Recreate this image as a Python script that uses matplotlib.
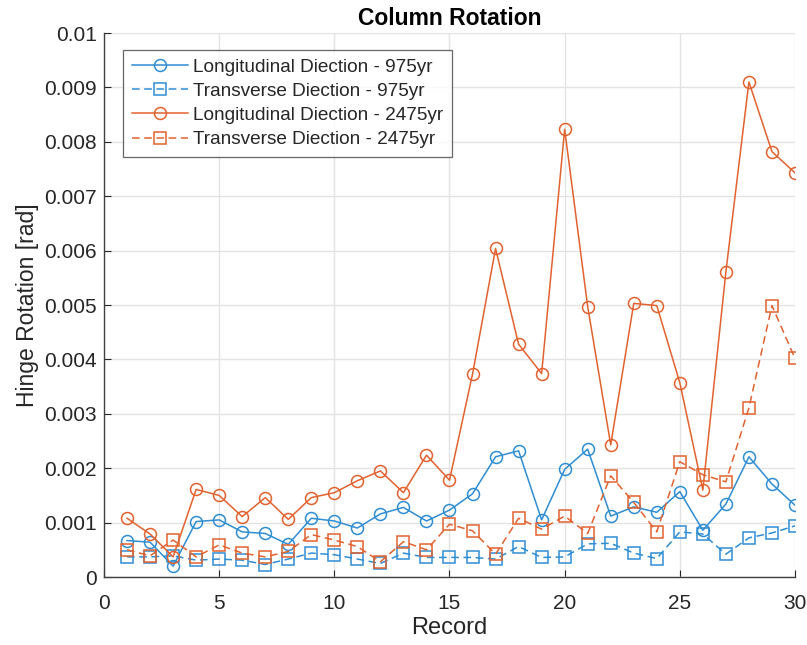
import matplotlib
matplotlib.use("Agg")
import matplotlib.pyplot as plt
import numpy as np

plt.rcParams['font.family'] = ['Liberation Sans', 'DejaVu Sans']

records = list(range(1, 31))

long_975 = [0.00067, 0.00064, 0.00020, 0.00102, 0.00105, 0.00083, 0.00080, 0.00060, 0.00108, 0.00103,
            0.00090, 0.00116, 0.00128, 0.00103, 0.00123, 0.00153, 0.00221, 0.00232, 0.00105, 0.00198,
            0.00235, 0.00112, 0.00129, 0.00119, 0.00157, 0.00086, 0.00134, 0.00221, 0.00171, 0.00132]
trans_975 = [0.00037, 0.00037, 0.00039, 0.00031, 0.00033, 0.00031, 0.00023, 0.00033, 0.00044, 0.00041,
             0.00033, 0.00025, 0.00044, 0.00036, 0.00036, 0.00036, 0.00033, 0.00056, 0.00036, 0.00037,
             0.00061, 0.00062, 0.00044, 0.00034, 0.00083, 0.00079, 0.00042, 0.00072, 0.00081, 0.00094]
long_2475 = [0.00108, 0.00079, 0.00037, 0.00161, 0.00150, 0.00111, 0.00146, 0.00106, 0.00146, 0.00155,
             0.00177, 0.00195, 0.00155, 0.00224, 0.00178, 0.00373, 0.00604, 0.00428, 0.00374, 0.00823,
             0.00497, 0.00243, 0.00503, 0.00499, 0.00357, 0.00160, 0.00561, 0.00910, 0.00782, 0.00743]
trans_2475 = [0.00050, 0.00039, 0.00068, 0.00037, 0.00059, 0.00044, 0.00037, 0.00047, 0.00078, 0.00068,
              0.00056, 0.00028, 0.00065, 0.00050, 0.00097, 0.00085, 0.00042, 0.00108, 0.00088, 0.00112,
              0.00080, 0.00186, 0.00137, 0.00083, 0.00212, 0.00188, 0.00175, 0.00311, 0.00499, 0.00402]

y_ticks = [0, 0.001, 0.002, 0.003, 0.004, 0.005, 0.006, 0.007, 0.008, 0.009, 0.01]
y_tick_labels = ['0', '0.001', '0.002', '0.003', '0.004', '0.005', '0.006', '0.007', '0.008', '0.009', '0.01']
x_ticks = [0, 5, 10, 15, 20, 25, 30]

blue = '#2F8DD2'
orange = '#E2622F'

fig = plt.figure(figsize=(8.07, 6.45), dpi=100)
ax = fig.add_axes([0.1289, 0.1054, 0.8562, 0.8434])

mk = dict(markersize=8.6, markerfacecolor='none', markeredgewidth=1.1, linewidth=1.1)
ax.plot(records, long_975, '-', marker='o', color=blue, label='Longitudinal Diection - 975yr', **mk)
ax.plot(records, trans_975, '--', marker='s', color=blue, label='Transverse Diection - 975yr', dashes=(5, 3), **mk)
ax.plot(records, long_2475, '-', marker='o', color=orange, label='Longitudinal Diection - 2475yr', **mk)
ax.plot(records, trans_2475, '--', marker='s', color=orange, label='Transverse Diection - 2475yr', dashes=(5, 3), **mk)

ax.set_xlim(0, 30)
ax.set_ylim(0, 0.01)
ax.set_xticks(x_ticks)
ax.set_yticks(y_ticks)
ax.set_yticklabels(y_tick_labels)
ax.tick_params(direction='in', labelsize=15, colors='#262626', length=5, width=0.8)
ax.tick_params(axis='y', pad=5)
ax.tick_params(axis='x', pad=12)
for s in ['top', 'right']:
    ax.spines[s].set_visible(False)
for s in ['left', 'bottom']:
    ax.spines[s].set_color('#404040')
    ax.spines[s].set_linewidth(1.0)
ax.grid(True, color='#e3e3e3', linewidth=1.0)
ax.set_axisbelow(True)

ax.set_xlabel('Record', fontsize=17, color='#262626', labelpad=3)
ax.set_ylabel('Hinge Rotation [rad]', fontsize=16.5, color='#262626', labelpad=4)
ax.set_title('Column Rotation', fontsize=16.5, fontweight='bold', color='black', pad=6)

leg = ax.legend(loc='upper left', bbox_to_anchor=(0.0275, 0.969), fontsize=13.7, frameon=True,
                fancybox=False, edgecolor='#404040', handlelength=2.95, borderpad=0.45,
                labelspacing=0.36, handletextpad=0.3, borderaxespad=0.0, markerscale=1.0)
leg.get_frame().set_linewidth(0.9)
for t in leg.get_texts():
    t.set_color('#262626')

fig.savefig('out.png', dpi=100)
